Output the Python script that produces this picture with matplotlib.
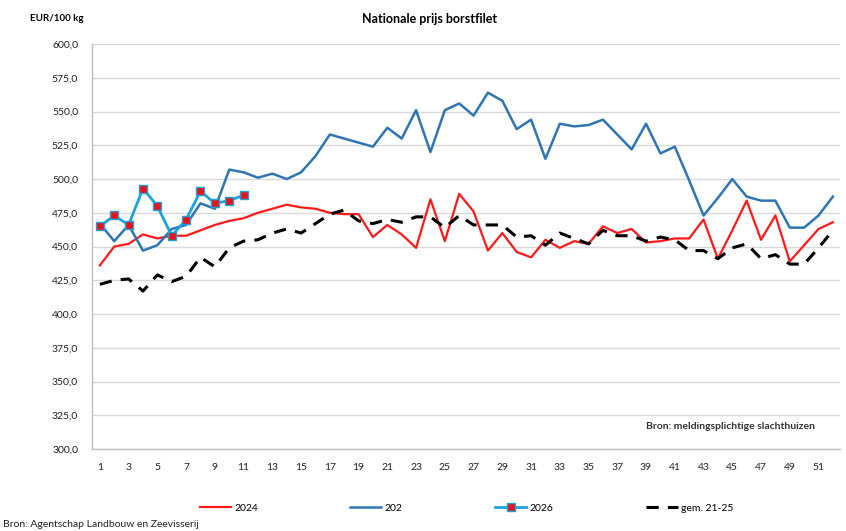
import numpy as np
import matplotlib
matplotlib.use("Agg")
import matplotlib.pyplot as plt

plt.rcParams['font.family'] = ['Lato', 'DejaVu Sans']

# weken en prijzen (EUR/100 kg)
weeks = list(range(1, 53))

prijs_2024 = [436, 450, 452, 459, 456, 458, 458, 462, 466, 469, 471, 475, 478,
              481, 479, 478, 475, 474, 474, 457, 466, 459, 449, 485, 454, 489,
              476, 447, 460, 446, 442, 455, 449, 454, 452, 465, 460, 463, 453,
              454, 456, 456, 470, 441, 462, 484, 455, 473, 439, 451, 463, 468]

prijs_2025 = [467, 454, 466, 447, 451, 463, 466, 482, 478, 507, 505, 501, 504,
              500, 505, 517, 533, 530, 527, 524, 538, 530, 551, 520, 551, 556,
              547, 564, 558, 537, 544, 515, 541, 539, 540, 544, 533, 522, 541,
              519, 524, 499, 473, 486, 500, 487, 484, 484, 464, 464, 473, 487]

weeks_2026 = list(range(1, 12))
prijs_2026 = [465, 473, 466, 493, 480, 458, 470, 491, 482, 484, 488]

gem_21_25 = [422, 425, 426, 417, 429, 424, 428, 442, 435, 449, 454, 455, 460,
             463, 460, 467, 474, 477, 469, 467, 470, 468, 472, 472, 464, 473,
             466, 466, 466, 457, 458, 451, 460, 456, 452, 462, 458, 458, 454,
             457, 455, 447, 447, 441, 449, 452, 441, 444, 437, 437, 449, 462]

fig = plt.figure(figsize=(8.46, 5.31), dpi=100)
ax = fig.add_axes([0.1087, 0.1544, 0.8843, 0.7626])

l1, = ax.plot(weeks, prijs_2024, color='#FF1A1A', lw=1.6, label='2024')
l2, = ax.plot(weeks, prijs_2025, color='#2E75B6', lw=1.8, label='202')
l3, = ax.plot(weeks_2026, prijs_2026, color='#1CA3DC', lw=2.0, marker='s', ms=6,
              mfc='#E8141B', mec='#1CA3DC', mew=1.0, label='2026')
l4, = ax.plot(weeks, gem_21_25, color='black', lw=2.2, ls=(0, (4, 3)), label='gem. 21-25')

ax.set_ylim(300, 600)
ax.set_xlim(0.45, 52.5)
ax.set_yticks(np.arange(300, 601, 25))
ax.set_yticklabels([f"{v:.1f}".replace('.', ',') for v in np.arange(300, 601, 25)])
ax.set_xticks(list(range(1, 52, 2)))
ax.tick_params(axis='both', length=0, labelsize=7.5, colors='#222222')
ax.tick_params(axis='x', pad=10)
ax.tick_params(axis='y', pad=10)

ax.grid(axis='y', color='#D9D9D9', lw=1.0)
ax.set_axisbelow(True)
for side in ['top', 'right']:
    ax.spines[side].set_visible(False)
ax.spines['left'].set_color('#BFBFBF')
ax.spines['bottom'].set_color('#BFBFBF')
ax.spines['left'].set_linewidth(1.0)
ax.spines['bottom'].set_linewidth(1.0)

fig.text(0.508, 0.965, 'Nationale prijs borstfilet', ha='center', va='center',
         fontsize=9, fontweight='bold')
fig.text(0.036, 0.965, 'EUR/100 kg', ha='left', va='center', fontsize=7, fontweight='bold')
ax.text(0.967, 0.055, 'Bron: meldingsplichtige slachthuizen', transform=ax.transAxes,
        ha='right', va='center', fontsize=7.5, fontweight='bold', color='#333333')
fig.text(0.004, 0.013, 'Bron: Agentschap Landbouw en Zeevisserij', ha='left', va='center',
         fontsize=7.5, color='#222222')

# legenda: vaste kolommen zoals in Excel
for h, x in zip([l1, l2, l3, l4], [0.236, 0.414, 0.585, 0.764]):
    fig.legend(handles=[h], loc='center left', bbox_to_anchor=(x, 0.043), frameon=False,
               fontsize=7.5, handlelength=3.0, handletextpad=0.3, borderpad=0,
               borderaxespad=0)

fig.savefig('out.png', dpi=100)
